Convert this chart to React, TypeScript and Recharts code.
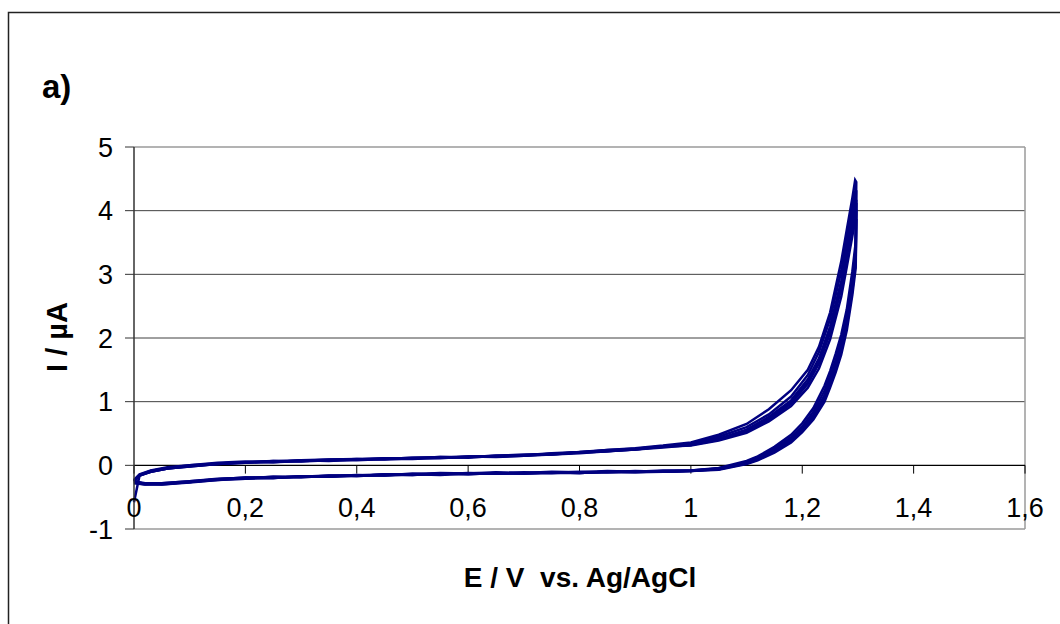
import React from 'react';
import { LineChart, Line, XAxis, YAxis, CartesianGrid, ReferenceLine } from 'recharts';

const X_TICKS = [0, 0.2, 0.4, 0.6, 0.8, 1, 1.2, 1.4, 1.6];
const Y_TICKS = [-1, 0, 1, 2, 3, 4, 5];
const GRID_Y = [1, 2, 3, 4];

// potential steps (V) for the anodic and cathodic scans
const E_FWD = [0, 0.01, 0.03, 0.06, 0.1, 0.15, 0.2, 0.25, 0.3, 0.35, 0.4, 0.45, 0.5, 0.55, 0.6, 0.65, 0.7, 0.75, 0.8, 0.85, 0.9, 0.95, 1.0, 1.05, 1.1, 1.14, 1.18, 1.21, 1.23, 1.25, 1.27, 1.28, 1.29, 1.295];
const E_REV = [1.297, 1.296, 1.29, 1.28, 1.27, 1.26, 1.25, 1.24, 1.22, 1.2, 1.18, 1.15, 1.12, 1.1, 1.05, 1.0, 0.95, 0.9, 0.85, 0.8, 0.75, 0.7, 0.65, 0.6, 0.55, 0.5, 0.45, 0.4, 0.35, 0.3, 0.25, 0.2, 0.15, 0.1, 0.05, 0.02, 0];

// current (µA), one pair of arrays per cycle
const FWD_1 = [-0.58, -0.16, -0.09, -0.04, 0.0, 0.03, 0.05, 0.07, 0.07, 0.09, 0.09, 0.11, 0.11, 0.13, 0.13, 0.15, 0.16, 0.19, 0.21, 0.24, 0.27, 0.31, 0.36, 0.48, 0.65, 0.88, 1.18, 1.5, 1.86, 2.4, 3.2, 3.7, 4.2, 4.48];
const REV_1 = [4.45, 3.5, 3.05, 2.45, 2.05, 1.75, 1.48, 1.25, 0.9, 0.66, 0.48, 0.29, 0.14, 0.07, -0.04, -0.08, -0.08, -0.1, -0.09, -0.11, -0.1, -0.12, -0.11, -0.13, -0.12, -0.14, -0.14, -0.16, -0.16, -0.18, -0.18, -0.2, -0.21, -0.25, -0.28, -0.28, -0.25];

const FWD_2 = [-0.24, -0.15, -0.1, -0.05, -0.02, 0.02, 0.04, 0.06, 0.08, 0.07, 0.09, 0.1, 0.12, 0.11, 0.14, 0.13, 0.15, 0.18, 0.2, 0.22, 0.26, 0.29, 0.34, 0.45, 0.6, 0.8, 1.08, 1.42, 1.78, 2.3, 3.05, 3.55, 4.05, 4.3];
const REV_2 = [4.3, 3.4, 2.95, 2.35, 1.95, 1.65, 1.4, 1.17, 0.84, 0.61, 0.44, 0.26, 0.12, 0.05, -0.05, -0.09, -0.1, -0.1, -0.11, -0.1, -0.12, -0.11, -0.13, -0.12, -0.14, -0.13, -0.16, -0.15, -0.17, -0.17, -0.2, -0.19, -0.22, -0.26, -0.29, -0.29, -0.26];

const FWD_3 = [-0.23, -0.14, -0.08, -0.03, 0.0, 0.04, 0.06, 0.05, 0.08, 0.09, 0.1, 0.09, 0.11, 0.13, 0.12, 0.15, 0.17, 0.17, 0.21, 0.23, 0.25, 0.3, 0.32, 0.42, 0.56, 0.76, 1.02, 1.35, 1.68, 2.18, 2.9, 3.4, 3.9, 4.15];
const REV_3 = [4.15, 3.3, 2.85, 2.28, 1.88, 1.58, 1.33, 1.1, 0.79, 0.57, 0.41, 0.24, 0.11, 0.04, -0.06, -0.08, -0.09, -0.11, -0.1, -0.12, -0.11, -0.13, -0.12, -0.14, -0.13, -0.15, -0.14, -0.17, -0.16, -0.19, -0.18, -0.21, -0.22, -0.26, -0.29, -0.3, -0.27];

const FWD_4 = [-0.25, -0.16, -0.1, -0.05, -0.02, 0.02, 0.04, 0.07, 0.06, 0.08, 0.08, 0.1, 0.1, 0.12, 0.13, 0.14, 0.15, 0.17, 0.19, 0.22, 0.25, 0.28, 0.32, 0.4, 0.53, 0.72, 0.97, 1.28, 1.6, 2.08, 2.78, 3.28, 3.75, 4.0];
const REV_4 = [4.0, 3.2, 2.75, 2.2, 1.8, 1.52, 1.27, 1.05, 0.75, 0.54, 0.38, 0.22, 0.09, 0.03, -0.06, -0.09, -0.1, -0.09, -0.11, -0.11, -0.12, -0.12, -0.13, -0.13, -0.14, -0.14, -0.15, -0.16, -0.17, -0.18, -0.19, -0.2, -0.23, -0.26, -0.3, -0.29, -0.26];

const FWD_5 = [-0.24, -0.15, -0.09, -0.04, -0.01, 0.03, 0.05, 0.06, 0.07, 0.08, 0.1, 0.1, 0.12, 0.12, 0.13, 0.15, 0.16, 0.18, 0.2, 0.24, 0.26, 0.3, 0.33, 0.41, 0.55, 0.74, 1.0, 1.3, 1.63, 2.12, 2.82, 3.32, 3.8, 4.1];
const REV_5 = [4.1, 3.25, 2.8, 2.25, 1.85, 1.55, 1.3, 1.08, 0.77, 0.55, 0.4, 0.23, 0.1, 0.04, -0.05, -0.08, -0.1, -0.1, -0.1, -0.12, -0.11, -0.13, -0.12, -0.14, -0.13, -0.15, -0.15, -0.16, -0.18, -0.17, -0.2, -0.19, -0.22, -0.25, -0.28, -0.29, -0.27];

const FWD_6 = [-0.26, -0.16, -0.1, -0.05, -0.01, 0.02, 0.05, 0.05, 0.07, 0.08, 0.09, 0.11, 0.11, 0.12, 0.14, 0.14, 0.16, 0.17, 0.2, 0.22, 0.25, 0.29, 0.31, 0.39, 0.51, 0.69, 0.93, 1.22, 1.52, 1.98, 2.65, 3.12, 3.6, 3.85];
const REV_6 = [3.85, 3.1, 2.68, 2.12, 1.74, 1.46, 1.22, 1.0, 0.72, 0.52, 0.36, 0.2, 0.08, 0.02, -0.07, -0.09, -0.1, -0.11, -0.1, -0.12, -0.12, -0.13, -0.13, -0.13, -0.15, -0.14, -0.16, -0.16, -0.18, -0.18, -0.2, -0.21, -0.23, -0.27, -0.3, -0.3, -0.28];

const CYCLES = [
  [FWD_1, REV_1],
  [FWD_2, REV_2],
  [FWD_3, REV_3],
  [FWD_4, REV_4],
  [FWD_5, REV_5],
  [FWD_6, REV_6],
];

const FONT = '"Liberation Sans", Arial, sans-serif';
const NAVY = '#000080';

const toPoints = (fwd: number[], rev: number[]) => [
  ...E_FWD.map((e, k) => ({ e, i: fwd[k] })),
  ...E_REV.map((e, k) => ({ e, i: rev[k] })),
];

const fmt = (v: number) => String(v).replace('.', ',');

// x labels sit just under the zero line, not at the bottom of the plot
const XTick = (props: any) => {
  const { x, y, payload } = props;
  return (
    <text x={x} y={y - 12} textAnchor="middle" fontSize={27} fill="#000" fontFamily={FONT}>
      {fmt(payload.value)}
    </text>
  );
};

const App: React.FC = () => {
  return (
    <div style={{ position: 'relative', width: 1060, height: 624, fontFamily: FONT }}>
      <style>{'body{margin:0;overflow:hidden}'}</style>
      <svg width={1060} height={624} style={{ position: 'absolute', left: 0, top: 0 }}>
        <rect x={8.5} y={12.5} width={1100} height={700} fill="none" stroke="#222" strokeWidth={1.5} />
        <text x={42} y={98} fontSize={33} fontWeight="bold" fontFamily={FONT}>a)</text>
        <text transform="translate(67,337) rotate(-90)" textAnchor="middle" fontSize={29} fontWeight="bold" fontFamily={FONT}>
          I / µA
        </text>
        <text x={580} y={587} textAnchor="middle" fontSize={28} fontWeight="bold" fontFamily={FONT} style={{ whiteSpace: 'pre' }}>
          {'E / V  vs. Ag/AgCl'}
        </text>
      </svg>
      <div style={{ position: 'absolute', left: 0, top: 0 }}>
        <LineChart width={1060} height={624} margin={{ top: 147, right: 35, bottom: 65, left: 74 }}>
          <CartesianGrid vertical={false} stroke="#404040" horizontalValues={GRID_Y} />
          <XAxis
            type="number"
            dataKey="e"
            domain={[0, 1.6]}
            ticks={X_TICKS}
            height={30}
            axisLine={false}
            tickLine={false}
            tickSize={0}
            tickMargin={0}
            tick={(p: any) => <XTick {...p} />}
            interval={0}
          />
          <YAxis
            type="number"
            dataKey="i"
            domain={[-1, 5]}
            ticks={Y_TICKS}
            width={60}
            tickSize={9}
            tickMargin={12}
            interval={0}
            stroke="#333"
            axisLine={{ stroke: '#333', strokeWidth: 1.5 }}
            tickLine={{ stroke: '#333' }}
            tick={{ fill: '#000', fontSize: 27, fontFamily: FONT }}
          />
          <ReferenceLine y={5} stroke="#9a9a9a" strokeWidth={1.5} />
          <ReferenceLine y={-1} stroke="#9a9a9a" strokeWidth={1.5} />
          <ReferenceLine x={1.6} stroke="#9a9a9a" strokeWidth={1.5} />
          <ReferenceLine y={0} stroke="#000" strokeWidth={1.2} />
          {X_TICKS.map((t) => (
            <ReferenceLine
              key={t}
              segment={[{ x: t, y: 0 }, { x: t, y: -0.13 }]}
              stroke="#000"
            />
          ))}
          {CYCLES.map(([fwd, rev], n) => (
            <Line
              key={n}
              data={toPoints(fwd, rev)}
              dataKey="i"
              type="linear"
              stroke={NAVY}
              strokeWidth={2.5}
              dot={false}
              isAnimationActive={false}
            />
          ))}
        </LineChart>
      </div>
    </div>
  );
};

export default App;
